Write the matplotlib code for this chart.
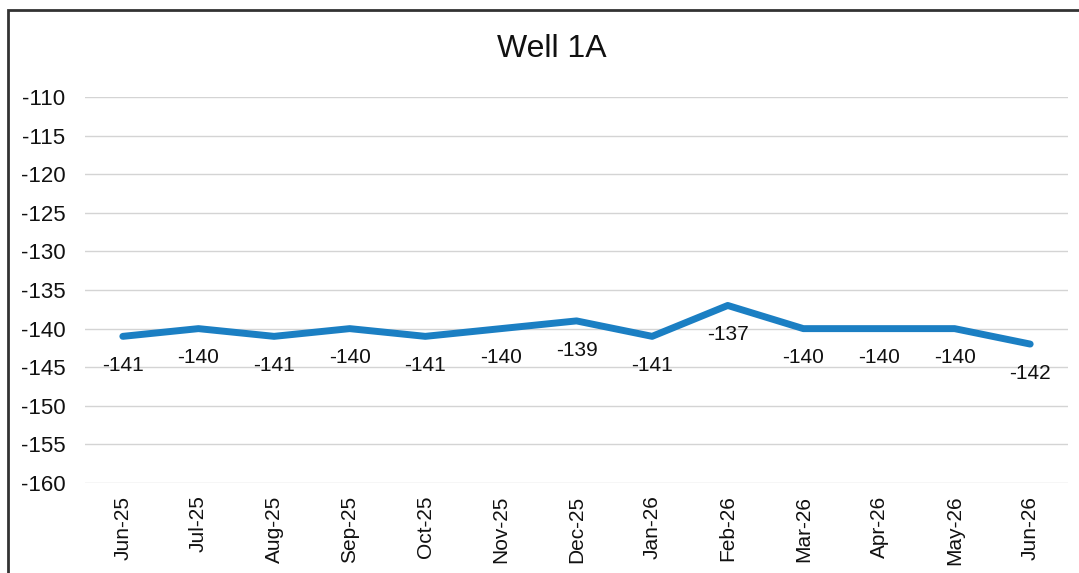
import matplotlib
matplotlib.use("Agg")
import matplotlib.pyplot as plt
from matplotlib.patches import Rectangle

plt.rcParams['font.family'] = ['Liberation Sans', 'DejaVu Sans']

# niveaux mensuels du puits
mois = ["Jun-25", "Jul-25", "Aug-25", "Sep-25", "Oct-25", "Nov-25", "Dec-25",
        "Jan-26", "Feb-26", "Mar-26", "Apr-26", "May-26", "Jun-26"]
niveaux = [-141, -140, -141, -140, -141, -140, -139, -141, -137, -140, -140, -140, -142]
graduations = [-110, -115, -120, -125, -130, -135, -140, -145, -150, -155, -160]

bleu = '#1b7fc3'

fig = plt.figure(figsize=(10.79, 5.73), dpi=100)
ax = fig.add_axes([0.0788, 0.157, 0.911, 0.6737])

x = range(len(mois))
ax.plot(x, niveaux, color=bleu, linewidth=5, solid_capstyle='round', solid_joinstyle='round', zorder=3)

# etiquettes de valeur sous chaque point
for i, v in zip(x, niveaux):
    ax.annotate(str(v), (i, v), xytext=(0, -21), textcoords='offset points',
                ha='center', va='center', fontsize=15, color='#111111')

ax.set_xlim(-0.5, len(mois) - 0.5)
ax.set_ylim(-160, -110)
ax.set_yticks(graduations)
ax.set_yticklabels([str(g) for g in graduations])
ax.set_xticks(list(x))
ax.set_xticklabels(mois, rotation=90)
ax.tick_params(axis='y', length=0, pad=14, labelsize=16, colors='#111111')
ax.tick_params(axis='x', length=0, pad=9, labelsize=15, colors='#111111')
ax.grid(axis='y', color='#d4d4d4', linewidth=1)
ax.set_axisbelow(True)
for s in ax.spines.values():
    s.set_visible(False)

fig.text(0.511, 0.915, "Well 1A", ha='center', va='center', fontsize=23, color='#111111')

# cadre autour du graphique
fig.patches.append(Rectangle((8 / 1079, -0.2), 1.2, 1.2 - 10 / 573, transform=fig.transFigure,
                             fill=False, edgecolor='#333333', linewidth=2))

fig.savefig("out.png", dpi=100)
